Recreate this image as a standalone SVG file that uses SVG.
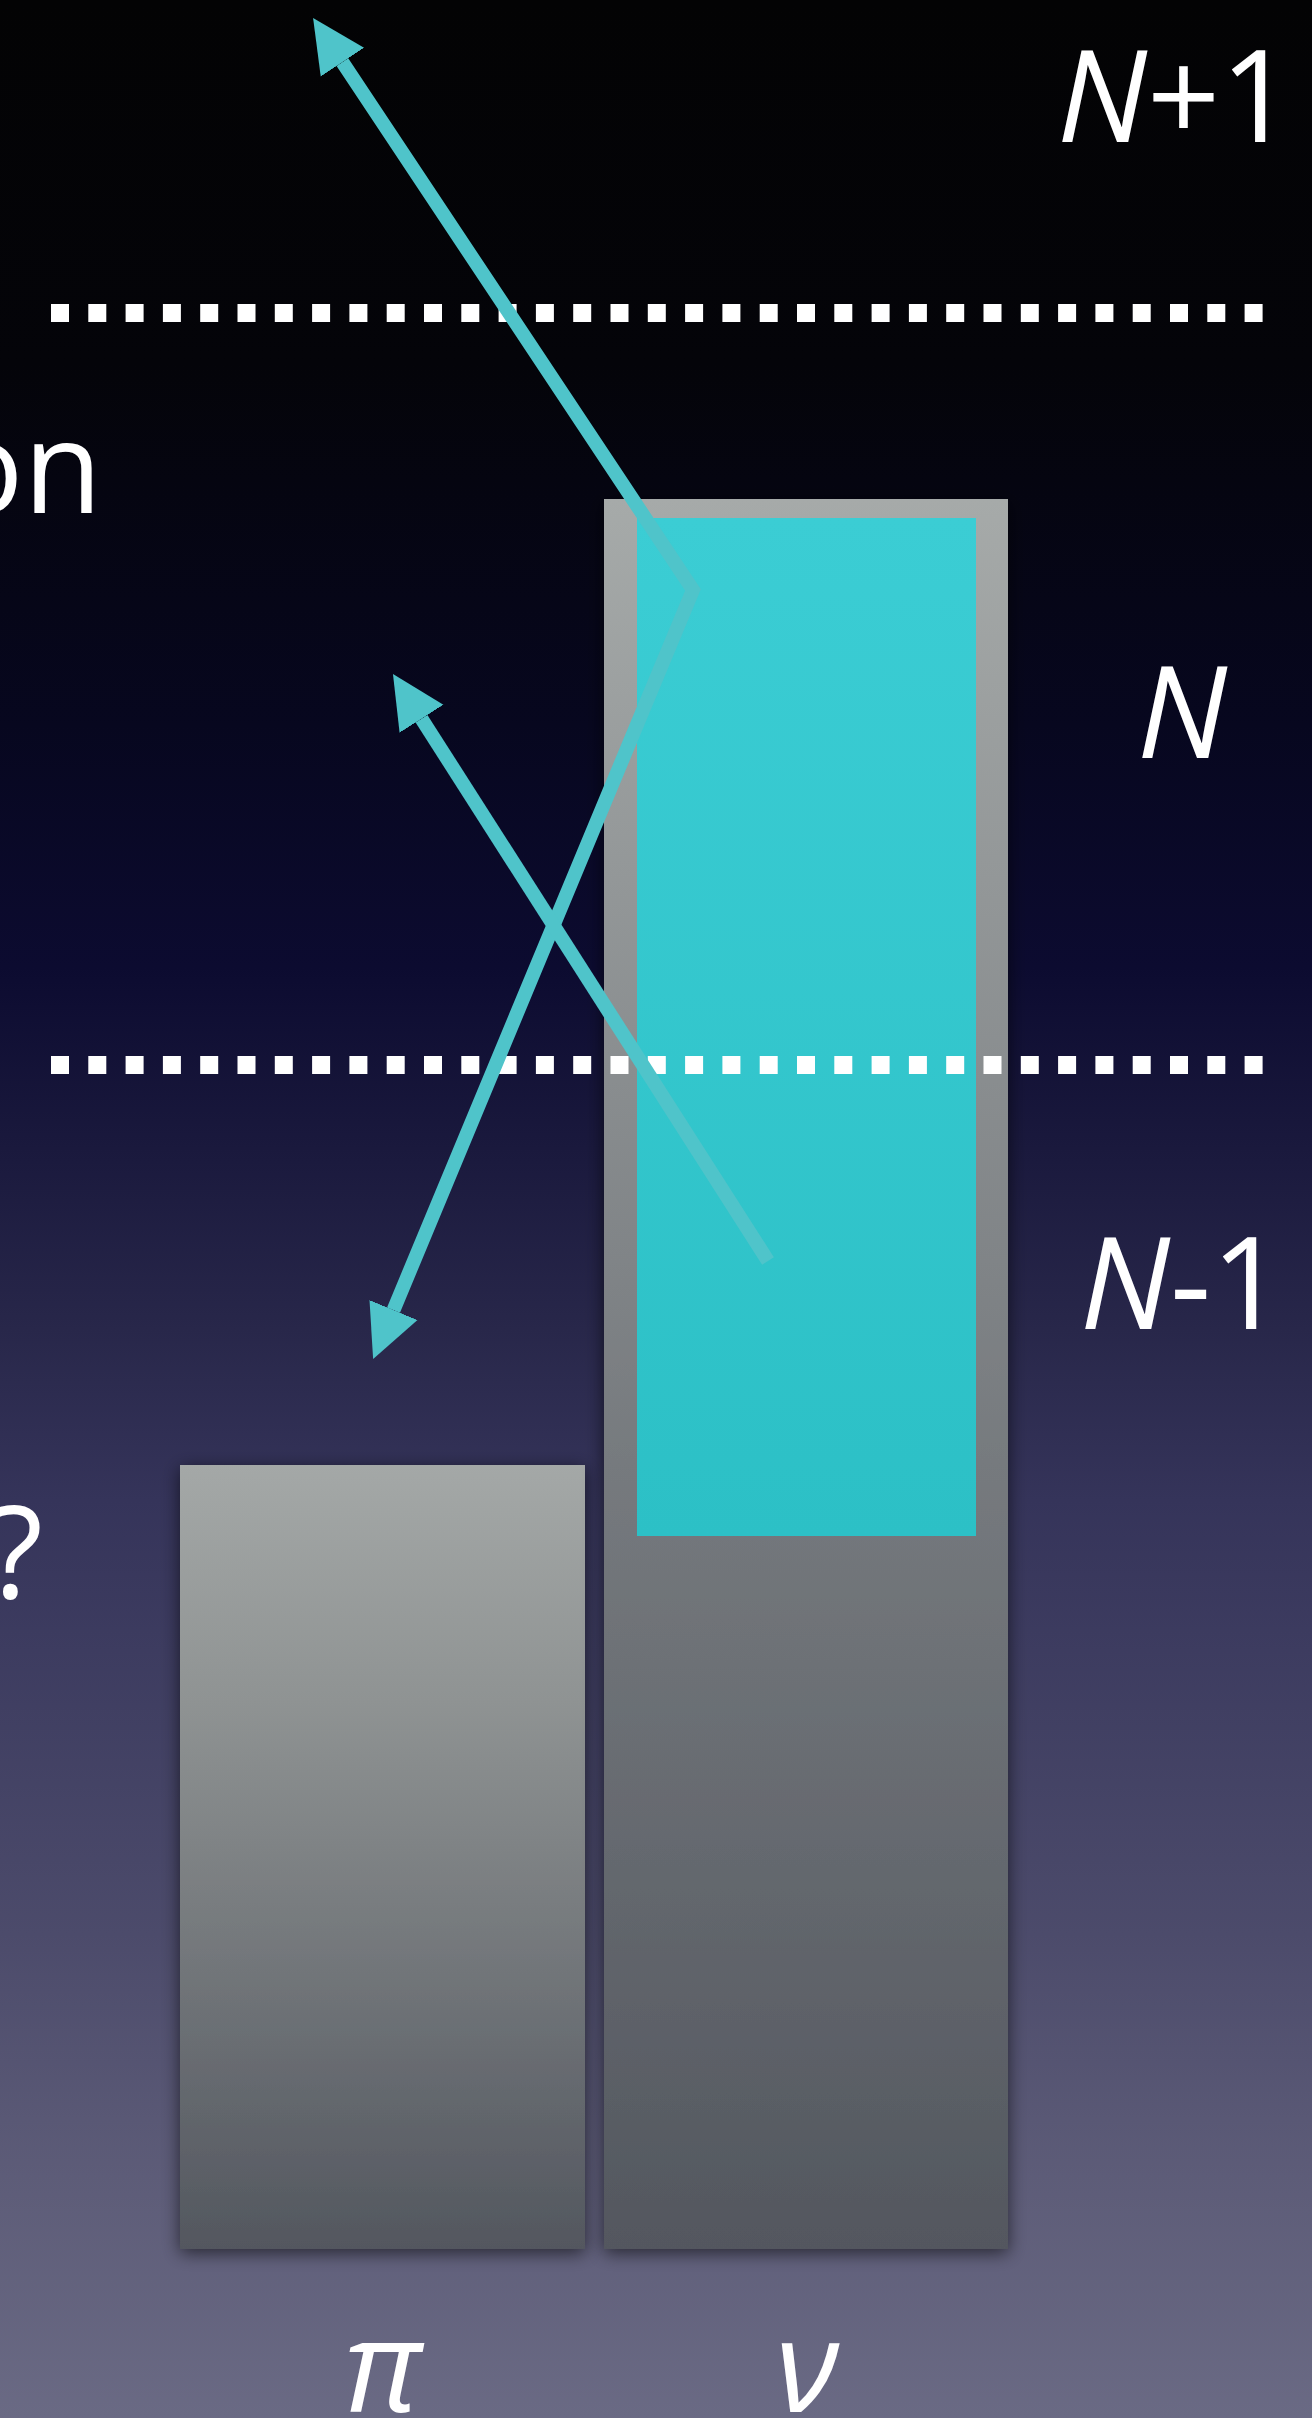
<svg xmlns="http://www.w3.org/2000/svg" width="1312" height="2418" viewBox="0 0 1312 2418">
<defs>
<linearGradient id="bg" x1="0" y1="0" x2="0" y2="1">
<stop offset="0" stop-color="#030304"/>
<stop offset="0.15" stop-color="#040409"/>
<stop offset="0.3" stop-color="#07071f"/>
<stop offset="0.4" stop-color="#0c0b30"/>
<stop offset="0.55" stop-color="#28274a"/>
<stop offset="0.62" stop-color="#35345a"/>
<stop offset="0.8" stop-color="#4c4b6b"/>
<stop offset="0.9" stop-color="#5d5c78"/>
<stop offset="1" stop-color="#6a6a84"/>
</linearGradient>
<linearGradient id="grayR" x1="0" y1="0" x2="0" y2="1">
<stop offset="0" stop-color="#a6aaa9"/>
<stop offset="0.55" stop-color="#767a7e"/>
<stop offset="1" stop-color="#53575f"/>
</linearGradient>
<linearGradient id="grayL" x1="0" y1="0" x2="0" y2="1">
<stop offset="0" stop-color="#a4a8a7"/>
<stop offset="0.3" stop-color="#8f9393"/>
<stop offset="1" stop-color="#53575f"/>
</linearGradient>
<linearGradient id="cyan" x1="0" y1="0" x2="0" y2="1">
<stop offset="0" stop-color="#3bcdd4"/>
<stop offset="1" stop-color="#2cc0c6"/>
</linearGradient>
<filter id="shadow" x="-10%" y="-10%" width="120%" height="120%">
<feDropShadow dx="0" dy="4" stdDeviation="9" flood-color="#000000" flood-opacity="0.6"/>
</filter>
<marker id="head" markerUnits="userSpaceOnUse" markerWidth="56" markerHeight="56" refX="0" refY="26" orient="auto-start-reverse" viewBox="0 0 56 52">
<path d="M0,0 L53,26 L0,52 Z" fill="#4fc4ca"/>
</marker>
<style>
.lbl{font-family:"Open Sans","Noto Sans","DejaVu Sans",sans-serif;fill:#ffffff;font-size:128px}
.it{font-style:italic}
.dots{stroke:#ffffff;stroke-width:18;stroke-dasharray:18 19.3;fill:none}
.arrow{stroke:#4fc4ca;stroke-width:14;fill:none;stroke-linejoin:miter}
</style>
</defs>
<rect x="0" y="0" width="1312" height="2418" fill="url(#bg)"/>

<g id="bar-pi">
<rect x="180" y="1465" width="405" height="784" fill="url(#grayL)" filter="url(#shadow)"/>
</g>
<g id="bar-nu">
<rect x="604" y="499" width="404" height="1750" fill="url(#grayR)" filter="url(#shadow)"/>
<rect x="637" y="518" width="339" height="1018" fill="url(#cyan)"/>
</g>

<g id="levels">
<line class="dots" x1="51" y1="313" x2="1264" y2="313"/>
<line class="dots" x1="51" y1="1065" x2="1264" y2="1065"/>
</g>

<g id="connectors">
<path class="arrow" d="M342.4,62.1 L693,590 L393.5,1310.1" marker-start="url(#head)" marker-end="url(#head)"/>
<path class="arrow" d="M768,1261 L421.5,718.7" marker-end="url(#head)"/>
</g>

<g id="labels">
<text class="lbl" x="1057" y="142"><tspan class="it">N</tspan>+1</text>
<text class="lbl it" x="1137" y="758">N</text>
<text class="lbl" x="1080" y="1329"><tspan class="it">N</tspan>-1</text>
<text class="lbl" x="102" y="513" text-anchor="end">on</text>
<text class="lbl" x="43" y="1598" text-anchor="end">?</text>
<text class="lbl it" x="383" y="2412" text-anchor="middle" font-size="110">π</text>
<text class="lbl it" x="807" y="2412" text-anchor="middle" font-size="110">ν</text>
</g>
</svg>
